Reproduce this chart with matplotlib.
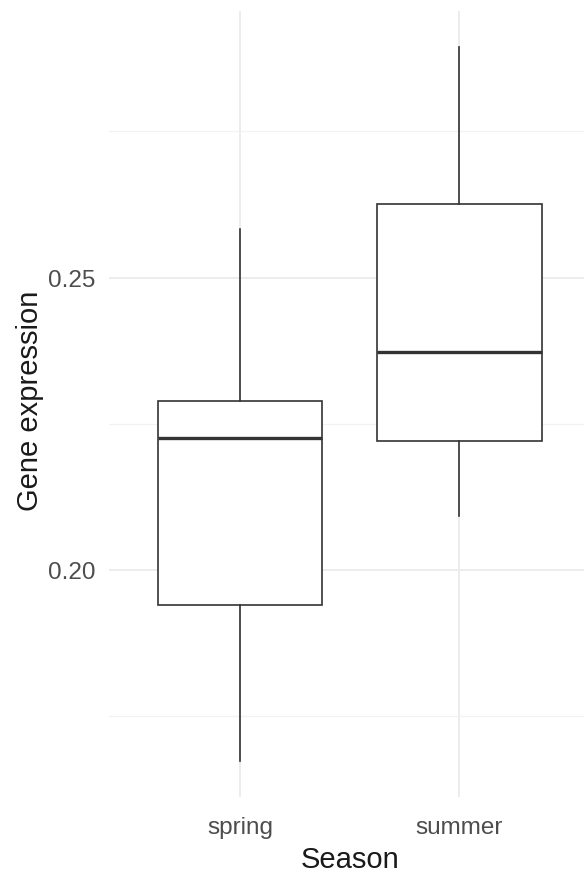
import matplotlib.pyplot as plt
from matplotlib.ticker import FixedLocator

# box statistics per season
seasons = ["spring", "summer"]
whisker_low = [0.1672, 0.2092]
q1 = [0.1939, 0.2220]
median = [0.2225, 0.2372]
q3 = [0.2289, 0.2626]
whisker_high = [0.2583, 0.2895]

yticks = [0.20, 0.25]
yminor = [0.175, 0.225, 0.275]

plt.rcParams['font.family'] = ['Liberation Sans', 'DejaVu Sans']

fig = plt.figure(figsize=(5.84, 8.79), dpi=100)
# panel runs a little past the right edge of the figure
ax = fig.add_axes([108.5 / 584, 81 / 879, (591 - 108.5) / 584, (798 - 12) / 879])

stats = []
for i, s in enumerate(seasons):
    stats.append(dict(label=s, whislo=whisker_low[i], q1=q1[i], med=median[i],
                      q3=q3[i], whishi=whisker_high[i], fliers=[]))

edge = "#333333"
ax.bxp(stats, positions=[1, 2], widths=0.75, showcaps=False, patch_artist=True,
       boxprops=dict(facecolor="white", edgecolor=edge, linewidth=1.2),
       whiskerprops=dict(color=edge, linewidth=1.2),
       medianprops=dict(color=edge, linewidth=2.4, solid_capstyle="butt"),
       zorder=3)

lo, hi = min(whisker_low), max(whisker_high)
pad = (hi - lo) * 0.05
ax.set_ylim(lo - pad, hi + pad)
ax.set_xlim(0.4, 2.6)

ax.yaxis.set_major_locator(FixedLocator(yticks))
ax.yaxis.set_minor_locator(FixedLocator(yminor))
ax.set_yticklabels([f"{v:.2f}" for v in yticks])
ax.set_xticks([1, 2])
ax.set_xticklabels(seasons)

ax.grid(which="major", color="#EBEBEB", linewidth=1.3, zorder=0)
ax.grid(which="minor", axis="y", color="#F2F2F2", linewidth=0.9, zorder=0)
ax.set_axisbelow(True)
for sp in ax.spines.values():
    sp.set_visible(False)
ax.tick_params(which="both", length=0)
ax.tick_params(axis="x", labelsize=17.5, labelcolor="#4D4D4D", pad=14)
ax.tick_params(axis="y", labelsize=17.5, labelcolor="#4D4D4D", pad=9.5)

ax.set_xlabel("Season", fontsize=21, color="#1A1A1A", labelpad=5)
ax.set_ylabel("Gene expression", fontsize=21, color="#1A1A1A", labelpad=3)
ax.yaxis.label.set_y(0.505)

fig.savefig("out.png", dpi=100)
